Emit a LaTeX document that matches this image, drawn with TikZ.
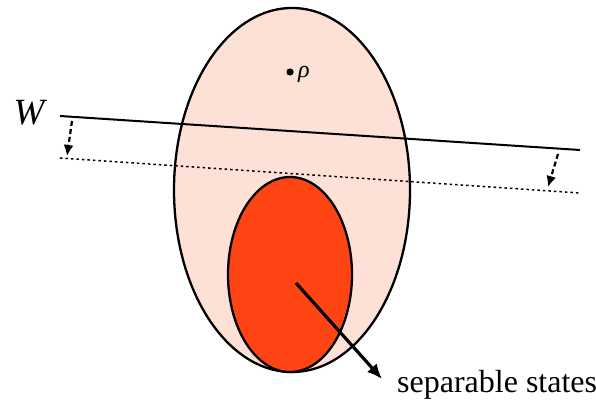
\documentclass[tikz,border=0pt]{standalone}
\usepackage{fontspec}
\setmainfont{Liberation Serif}
\usetikzlibrary{shapes.geometric,arrows.meta}
\definecolor{paleset}{RGB}{253,224,214}
\definecolor{sepset}{RGB}{255,68,20}
\tikzset{
  setshape/.style={ellipse, draw=black, line width=2.3pt, inner sep=0pt},
  wline/.style={line width=2pt},
  wdots/.style={line width=1.5pt, dash pattern=on 2.5pt off 3pt},
  shiftarrow/.style={line width=2.2pt, dash pattern=on 5pt off 3pt, -{Latex[length=11pt,width=10pt]}},
  pointer/.style={line width=3.2pt, -{Latex[length=15pt,width=13pt]}}
}
\begin{document}
\begin{tikzpicture}[x=1pt,y=-1pt]
\useasboundingbox (0,0) rectangle (596,399);
\node[setshape, fill=paleset, minimum width=236pt, minimum height=364pt] (all) at (292,190) {};
\node[setshape, fill=sepset, minimum width=124pt, minimum height=195pt] (sep) at (290,274.5) {};
\fill (290,72) circle (3.6pt) coordinate (rhodot);
\node[anchor=west, font=\itshape\fontsize{24}{24}\selectfont, inner sep=0pt] (rho) at (298,74) {ρ};
\coordinate (w1) at (60,116);
\coordinate (w2) at (580,150);
\coordinate (d1) at (60,158);
\coordinate (d2) at (580,193);
\draw[wline] (w1) -- (w2);
\draw[wdots] (d1) -- (d2);
\node[font=\itshape\fontsize{37}{37}\selectfont, inner sep=0pt] (W) at (29,113) {W};
\coordinate (a1s) at (72,121);
\coordinate (a1e) at (67,156);
\coordinate (a2s) at (558,154);
\coordinate (a2e) at (548,187);
\draw[shiftarrow] (a1s) -- (a1e);
\draw[shiftarrow] (a2s) -- (a2e);
\node[anchor=base west, font=\fontsize{32}{32}\selectfont, inner sep=0pt] (lbl) at (397,392) {separable states};
\coordinate (ps) at (296,283);
\coordinate (pe) at (382,379);
\draw[pointer] (ps) -- (pe);
\end{tikzpicture}
\end{document}
